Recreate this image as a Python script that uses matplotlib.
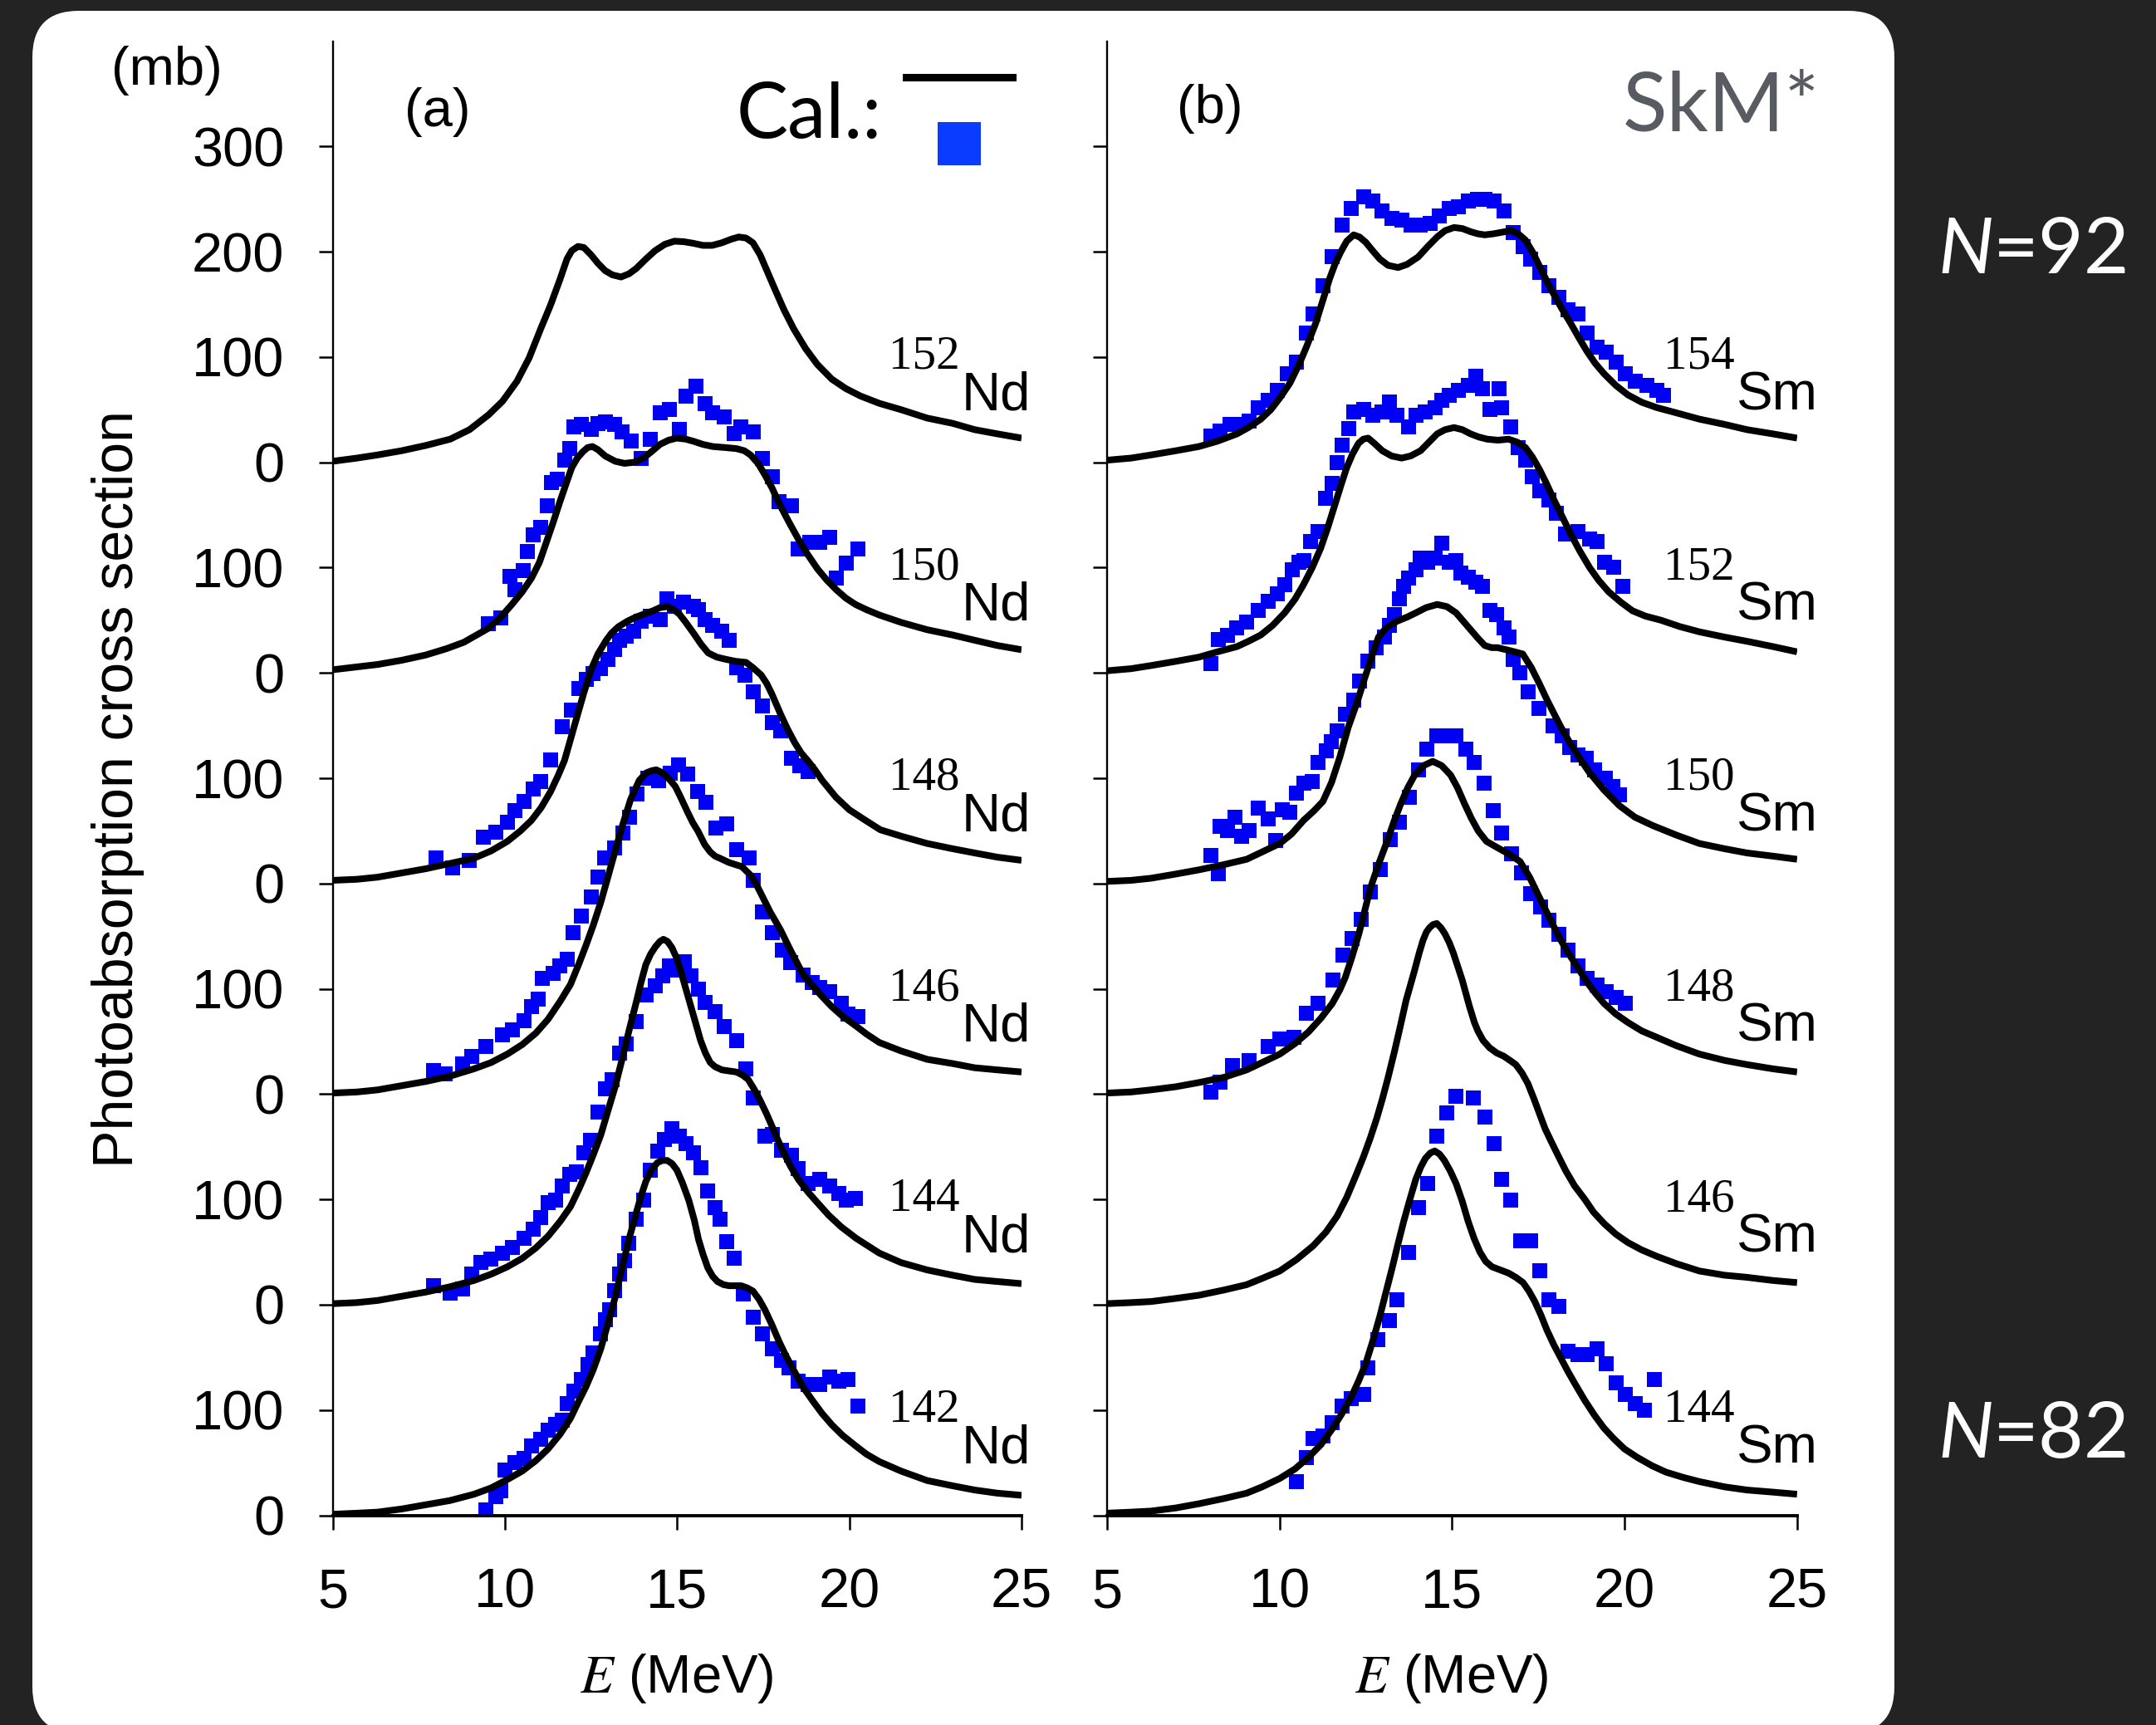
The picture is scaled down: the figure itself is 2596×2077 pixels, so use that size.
import numpy as np
import matplotlib
matplotlib.use('Agg')
import matplotlib.pyplot as plt
from matplotlib.patches import FancyBboxPatch
from matplotlib.lines import Line2D

plt.rcParams['font.family'] = ['Liberation Sans', 'DejaVu Sans']
plt.rcParams['mathtext.fontset'] = 'stix'

# ---- calculated curves (E [MeV], sigma [mb]) ----
nd152_cal = np.array([(5, 1), (5.7, 4), (6.3, 7), (7.0, 11), (7.7, 16), (8.41, 22), (8.97, 31), (9.52, 45),
                      (9.93, 58), (10.35, 77), (10.7, 99), (11.04, 127), (11.32, 149), (11.6, 174), (11.8, 193),
                      (11.94, 201), (12.12, 205), (12.29, 204), (12.5, 197), (12.7, 189), (12.91, 182),
                      (13.12, 178), (13.37, 176), (13.6, 179), (13.81, 184), (14.09, 193), (14.36, 201),
                      (14.64, 207), (14.92, 210), (15.19, 209.5), (15.47, 208), (15.75, 206), (16.02, 206),
                      (16.3, 208.5), (16.58, 212), (16.79, 214), (17.0, 213), (17.2, 208.5), (17.41, 197),
                      (17.62, 181), (17.83, 165), (18.1, 145), (18.38, 127), (18.73, 108), (19.07, 93),
                      (19.49, 79), (19.9, 70), (20.32, 63), (20.87, 56), (21.5, 50), (22.26, 42), (23.0, 37),
                      (23.64, 31), (24.3, 27), (25, 23)])
nd150_cal = np.array([(5, 3), (6.3, 8), (7.0, 12), (7.7, 17), (8.3, 23), (8.8, 29), (9.5, 42), (9.85, 52),
                      (10.2, 65), (10.5, 77), (10.77, 90), (11.0, 105), (11.18, 122), (11.4, 143), (11.6, 163),
                      (11.8, 182), (11.94, 195), (12.1, 204), (12.26, 210), (12.4, 214), (12.54, 215),
                      (12.7, 212), (12.91, 206), (13.2, 201), (13.47, 199), (13.75, 200), (14.02, 204),
                      (14.25, 210), (14.5, 217), (14.75, 221), (14.99, 223), (15.25, 222), (15.47, 220),
                      (15.75, 217), (16.03, 215), (16.4, 214), (16.72, 213), (16.95, 211), (17.13, 207),
                      (17.35, 199), (17.55, 188), (17.75, 176), (17.96, 161), (18.25, 143), (18.52, 127),
                      (18.8, 112), (19.07, 99), (19.35, 88), (19.62, 79), (19.9, 71), (20.18, 65), (20.5, 60),
                      (20.87, 55), (21.5, 48), (22.26, 41), (23.0, 36), (23.64, 31), (24.3, 26), (25, 22)])
nd148_cal = np.array([(5, 3), (5.7, 4), (6.3, 6), (7.0, 10), (7.7, 14), (8.4, 19), (9.1, 24), (9.6, 31),
                      (10.07, 40), (10.45, 50), (10.77, 60), (11.05, 72), (11.32, 87), (11.55, 103),
                      (11.73, 117), (12.0, 148), (12.29, 181), (12.5, 203), (12.7, 218), (12.94, 231),
                      (13.1, 238), (13.3, 244), (13.55, 249), (13.8, 253), (14.05, 256), (14.3, 259),
                      (14.5, 262), (14.71, 263), (14.9, 260), (15.06, 256), (15.25, 248), (15.47, 238),
                      (15.7, 227), (15.9, 219), (16.15, 215), (16.4, 213), (16.7, 211), (17.0, 210),
                      (17.2, 205), (17.44, 198), (17.6, 190), (17.75, 180), (18.0, 161), (18.2, 147),
                      (18.41, 134), (18.6, 124), (18.81, 116), (19.0, 108), (19.21, 98), (19.61, 82),
                      (20.0, 70), (20.42, 61), (20.9, 51), (21.5, 45), (22.26, 38), (23.0, 33), (23.64, 29),
                      (24.3, 25), (25, 22)])
nd146_cal = np.array([(5, 1), (5.7, 2), (6.3, 4), (7.0, 8), (7.7, 12), (8.4, 17), (9.1, 24), (9.6, 30),
                      (10.07, 38), (10.5, 47), (10.9, 58), (11.25, 71), (11.6, 88), (11.9, 104), (12.15, 124),
                      (12.35, 141), (12.56, 160), (12.78, 182), (12.98, 205), (13.2, 231), (13.42, 256),
                      (13.65, 280), (13.9, 298), (14.1, 305), (14.25, 307), (14.39, 308), (14.52, 306),
                      (14.65, 303), (14.8, 298), (14.95, 292), (15.1, 282), (15.3, 268), (15.45, 258),
                      (15.6, 250), (15.8, 237), (15.96, 230), (16.1, 226), (16.24, 224), (16.5, 220),
                      (16.88, 216), (17.13, 208), (17.3, 199), (17.44, 190), (17.7, 173), (18.0, 156),
                      (18.3, 136), (18.65, 114), (18.93, 103), (19.2, 93), (19.49, 83), (19.8, 74),
                      (20.18, 65), (20.5, 57), (20.87, 49), (21.5, 41), (22.26, 33), (23.0, 29), (23.64, 25),
                      (24.3, 23), (25, 21)])
nd144_cal = np.array([(5, 1), (5.7, 2), (6.3, 4), (7.0, 8), (7.7, 12), (8.4, 17), (9.1, 23), (9.6, 29),
                      (10.07, 36), (10.5, 44), (10.9, 54), (11.25, 65), (11.6, 79), (11.9, 93), (12.15, 110),
                      (12.35, 125), (12.56, 142), (12.78, 161), (12.98, 183), (13.2, 207), (13.4, 233),
                      (13.6, 260), (13.81, 287), (13.95, 306), (14.09, 323), (14.23, 333), (14.37, 340),
                      (14.5, 345), (14.6, 347), (14.72, 345), (14.85, 339), (15.0, 328), (15.13, 314),
                      (15.27, 298), (15.41, 282), (15.55, 266), (15.68, 251), (15.82, 239), (15.96, 230),
                      (16.1, 226), (16.3, 223), (16.5, 222), (16.72, 221), (16.9, 218), (17.06, 214),
                      (17.23, 205), (17.41, 194), (17.6, 181), (17.76, 169), (17.93, 156), (18.1, 144),
                      (18.3, 131), (18.52, 119), (18.8, 107), (19.07, 97), (19.4, 85), (19.76, 74),
                      (20.2, 63), (20.87, 49), (21.5, 40), (22.26, 33), (23.0, 28), (23.64, 24), (24.3, 22),
                      (25, 20)])
nd142_cal = np.array([(5, 1), (5.7, 2), (6.3, 3), (7.0, 6), (7.7, 10), (8.4, 14), (9.1, 20), (9.6, 26),
                      (10.07, 34), (10.5, 42), (10.9, 52), (11.25, 63), (11.6, 77), (11.9, 92), (12.15, 109),
                      (12.35, 122), (12.56, 138), (12.78, 158), (12.98, 181), (13.2, 207), (13.4, 235),
                      (13.6, 262), (13.81, 287), (13.95, 303), (14.09, 317), (14.25, 328), (14.43, 335),
                      (14.57, 337), (14.71, 337), (14.85, 334), (14.99, 328), (15.15, 316), (15.34, 299),
                      (15.5, 280), (15.62, 262), (15.75, 248), (15.89, 235), (16.03, 227), (16.17, 222),
                      (16.35, 219), (16.51, 218), (16.7, 218), (16.86, 218), (17.03, 216), (17.2, 213),
                      (17.38, 205), (17.55, 195), (17.75, 181), (17.96, 165), (18.15, 152), (18.38, 138),
                      (18.65, 122), (18.93, 109), (19.2, 97), (19.49, 86), (19.8, 76), (20.18, 66),
                      (20.5, 58), (20.87, 51), (21.5, 42), (22.26, 33), (23.0, 28), (23.64, 24), (24.3, 21),
                      (25, 19)])

sm154_cal = np.array([(5, 2), (5.7, 4), (6.28, 7), (7.0, 11), (7.67, 15), (8.2, 20), (8.77, 27), (9.1, 33),
                      (9.46, 41), (9.75, 50), (10.01, 61), (10.3, 75), (10.57, 93), (10.8, 111), (11.05, 132),
                      (11.25, 153), (11.46, 175), (11.62, 189), (11.78, 200), (11.95, 210), (12.15, 216),
                      (12.32, 214), (12.5, 209), (12.7, 201), (12.91, 193), (13.15, 187), (13.44, 185),
                      (13.7, 188), (14.02, 195), (14.3, 205), (14.57, 214), (14.8, 220), (15.06, 223),
                      (15.3, 222), (15.54, 219), (15.75, 217), (15.95, 216), (16.2, 217), (16.45, 218.5),
                      (16.71, 220), (16.92, 217), (17.13, 211), (17.33, 200), (17.54, 186), (17.75, 172),
                      (17.96, 159), (18.2, 145), (18.44, 132), (18.7, 117), (18.92, 105), (19.15, 94),
                      (19.41, 84), (19.75, 73), (20.1, 64), (20.5, 57), (20.93, 52), (21.5, 47), (22.17, 41),
                      (22.9, 36), (23.55, 31), (24.3, 27), (25, 23)])
sm152_cal = np.array([(5, 2), (5.7, 4), (6.28, 7), (7.0, 11), (7.67, 15), (8.2, 20), (8.77, 25), (9.1, 30),
                      (9.46, 36), (9.8, 45), (10.15, 57), (10.45, 70), (10.7, 84), (10.95, 100), (11.19, 118),
                      (11.4, 138), (11.6, 159), (11.8, 180), (11.95, 195), (12.12, 208), (12.29, 218),
                      (12.43, 222), (12.57, 223), (12.75, 218), (12.98, 211), (13.25, 206), (13.54, 204),
                      (13.8, 206), (14.09, 211), (14.33, 219), (14.57, 227), (14.8, 231), (15.06, 233),
                      (15.3, 231), (15.54, 227), (15.78, 224), (16.02, 222), (16.33, 221), (16.64, 222),
                      (16.9, 219), (17.13, 214), (17.33, 205), (17.54, 193), (17.75, 179), (17.96, 164),
                      (18.2, 148), (18.44, 132), (18.7, 116), (18.99, 100), (19.25, 88), (19.54, 77),
                      (19.9, 67), (20.23, 59), (20.6, 54), (21.06, 50), (21.6, 44), (22.17, 39), (22.9, 34),
                      (23.55, 30), (24.3, 25), (25, 20)])
sm150_cal = np.array([(5, 2), (5.7, 3), (6.28, 5), (7.0, 9), (7.67, 13), (8.4, 18), (9.05, 23), (9.5, 30),
                      (10.01, 38), (10.35, 47), (10.7, 60), (11.0, 69), (11.26, 78), (11.51, 96), (11.75, 120),
                      (11.99, 148), (12.25, 172), (12.47, 195), (12.68, 216), (12.87, 234), (13.1, 243),
                      (13.4, 249), (13.7, 253), (13.95, 257), (14.25, 262), (14.57, 265), (14.85, 263),
                      (15.12, 257), (15.33, 249), (15.54, 241), (15.75, 233), (15.95, 226), (16.15, 224),
                      (16.32, 224), (16.7, 221), (17.05, 218), (17.3, 205), (17.53, 190), (17.73, 176),
                      (17.93, 163), (18.15, 149), (18.41, 134), (18.7, 119), (18.97, 106), (19.4, 89),
                      (19.85, 74), (20.3, 63), (20.82, 55), (21.5, 46), (22.17, 38), (22.9, 33), (23.55, 29),
                      (24.3, 26), (25, 23)])
sm148_cal = np.array([(5, 1), (5.7, 2), (6.28, 4), (7.0, 7), (7.67, 11), (8.4, 16), (9.05, 23), (9.5, 30),
                      (10.01, 38), (10.45, 48), (10.84, 59), (11.2, 72), (11.53, 86), (11.75, 99),
                      (11.91, 111), (12.1, 130), (12.3, 152), (12.47, 174), (12.63, 195), (12.88, 219),
                      (13.12, 240), (13.32, 259), (13.52, 276), (13.72, 291), (13.92, 303), (14.18, 312),
                      (14.44, 316), (14.7, 312), (14.96, 303), (15.16, 291), (15.36, 276), (15.56, 262),
                      (15.76, 250), (16.0, 240), (16.32, 234), (16.65, 228), (16.97, 221), (17.25, 206),
                      (17.53, 187), (17.8, 169), (18.09, 150), (18.33, 136), (18.57, 124), (18.92, 106),
                      (19.15, 96), (19.41, 86), (19.75, 76), (20.1, 68), (20.5, 60), (20.93, 54), (21.5, 46),
                      (22.17, 38), (22.9, 32), (23.55, 28), (24.3, 24), (25, 21)])
sm146_cal = np.array([(5, 1), (5.7, 2), (6.28, 3), (7.0, 6), (7.67, 9), (8.4, 14), (9.05, 19), (9.5, 25),
                      (10.01, 32), (10.5, 43), (10.98, 56), (11.35, 69), (11.67, 84), (11.95, 102),
                      (12.22, 123), (12.43, 140), (12.64, 159), (12.82, 177), (12.98, 195), (13.15, 216),
                      (13.33, 240), (13.5, 264), (13.67, 289), (13.8, 304), (13.92, 318), (14.05, 334),
                      (14.16, 346), (14.26, 354), (14.35, 358), (14.45, 361), (14.56, 362), (14.68, 358),
                      (14.8, 352), (14.92, 344), (15.04, 334), (15.17, 321), (15.3, 308), (15.5, 284),
                      (15.65, 268), (15.75, 260), (15.9, 251), (16.09, 244), (16.3, 239), (16.5, 236),
                      (16.68, 232), (16.85, 228), (17.03, 220), (17.2, 210), (17.37, 196), (17.54, 181),
                      (17.7, 167), (17.89, 154), (18.1, 140), (18.3, 127), (18.55, 113), (18.85, 100),
                      (19.1, 88), (19.41, 77), (19.75, 67), (20.1, 59), (20.5, 52), (20.93, 46), (21.5, 39),
                      (22.17, 32), (22.9, 28), (23.55, 26), (24.3, 23), (25, 21)])
sm144_cal = np.array([(5, 2), (5.7, 3), (6.28, 4), (7.0, 7), (7.67, 11), (8.4, 16), (9.05, 21), (9.5, 27),
                      (10.01, 35), (10.45, 44), (10.84, 55), (11.2, 67), (11.53, 82), (11.8, 96), (12.09, 113),
                      (12.3, 128), (12.5, 144), (12.7, 165), (12.91, 189), (13.08, 211), (13.26, 234),
                      (13.43, 257), (13.6, 279), (13.78, 300), (13.95, 319), (14.1, 331), (14.23, 339),
                      (14.37, 344), (14.5, 346), (14.64, 343), (14.78, 337), (14.95, 327), (15.12, 315),
                      (15.3, 298), (15.47, 279), (15.64, 263), (15.81, 250), (15.98, 241), (16.16, 236),
                      (16.4, 233), (16.64, 230), (16.85, 226), (17.06, 221), (17.23, 213), (17.4, 203),
                      (17.58, 190), (17.75, 176), (17.95, 162), (18.16, 149), (18.37, 136), (18.58, 124),
                      (18.85, 109), (19.13, 95), (19.4, 83), (19.68, 73), (20.0, 63), (20.37, 55), (20.8, 47),
                      (21.2, 41), (21.7, 36), (22.17, 32), (22.9, 27), (23.55, 24), (24.3, 22), (25, 20)])

# ---- experimental points (E [MeV], sigma [mb]) ----
nd150_exp = np.array([(9.52, 47), (9.87, 52), (10.14, 92), (10.28, 79), (10.52, 97), (10.65, 115), (10.83, 131),
                      (11.04, 138), (11.22, 159), (11.35, 181), (11.53, 184), (11.73, 202), (11.87, 213),
                      (12.01, 234), (12.22, 236), (12.5, 231), (12.7, 237), (12.91, 238), (13.19, 236),
                      (13.4, 229), (13.67, 220), (13.95, 204), (14.23, 222), (14.5, 247), (14.78, 250),
                      (15.06, 231), (15.26, 263), (15.54, 272), (15.82, 256), (16.03, 247), (16.37, 243),
                      (16.65, 227), (16.86, 234), (17.2, 229), (17.48, 204), (17.76, 186), (17.96, 163),
                      (18.31, 159), (18.52, 118), (18.86, 124), (19.14, 124), (19.42, 129), (19.62, 90),
                      (19.9, 104), (20.25, 118)])
nd148_exp = np.array([(8.0, 24), (8.48, 15), (8.97, 22), (9.38, 44), (9.73, 49), (10.07, 58), (10.28, 69),
                      (10.56, 78), (10.83, 90), (11.04, 97), (11.32, 117), (11.67, 149), (11.94, 165),
                      (12.15, 185), (12.36, 194), (12.56, 199), (12.77, 204), (12.98, 213), (13.19, 222),
                      (13.33, 231), (13.53, 235), (13.74, 240), (13.95, 249), (14.23, 254), (14.5, 251),
                      (14.71, 270), (14.92, 263), (15.19, 267), (15.47, 263), (15.61, 260), (15.82, 251),
                      (16.03, 245), (16.3, 240), (16.51, 231), (16.72, 205), (16.96, 198), (17.2, 182),
                      (17.48, 169), (17.77, 153), (18.0, 145), (18.33, 119), (18.55, 112), (18.81, 106)])
nd146_exp = np.array([(7.93, 22), (8.27, 19), (8.76, 29), (9.04, 36), (9.45, 45), (9.93, 56), (10.21, 61),
                      (10.56, 70), (10.77, 83), (10.97, 90), (11.09, 110), (11.39, 115), (11.6, 122),
                      (11.8, 128), (11.98, 153), (12.22, 169), (12.5, 187), (12.7, 206), (12.9, 224),
                      (13.18, 234), (13.42, 248), (13.62, 263), (13.83, 285), (14.15, 300), (14.47, 298),
                      (14.79, 305), (15.03, 313), (15.31, 304), (15.6, 287), (15.84, 277), (16.12, 253),
                      (16.44, 257), (16.72, 232), (17.08, 224), (17.2, 203), (17.48, 173), (17.76, 153),
                      (18.05, 137), (18.29, 125), (18.66, 113), (18.93, 106), (19.14, 101), (19.42, 97),
                      (19.76, 86), (19.97, 76), (20.25, 74)])
nd144_exp = np.array([(7.93, 18), (8.41, 11), (8.76, 15), (9.04, 29), (9.31, 40), (9.59, 43), (9.93, 49),
                      (10.21, 54), (10.56, 63), (10.83, 72), (11.04, 83), (11.25, 97), (11.46, 99),
                      (11.66, 113), (11.87, 124), (12.08, 126), (12.29, 144), (12.49, 156), (12.7, 183),
                      (12.91, 205), (13.12, 214), (13.33, 239), (13.53, 248), (13.81, 269), (14.09, 294),
                      (14.37, 303), (14.57, 312), (14.78, 322), (14.99, 318), (15.2, 326), (15.41, 312),
                      (15.62, 300), (15.82, 287), (16.1, 278), (16.37, 264), (16.72, 251), (17.0, 224),
                      (17.2, 196), (17.55, 160), (17.76, 162), (18.03, 147), (18.31, 142), (18.52, 129),
                      (18.79, 115), (19.14, 119), (19.42, 113), (19.69, 106), (19.9, 99), (20.18, 101)])
nd142_exp = np.array([(9.45, 5), (9.73, 18), (9.87, 23), (10.0, 43), (10.28, 50), (10.56, 54), (10.77, 66),
                      (11.04, 72), (11.25, 81), (11.46, 86), (11.66, 90), (11.8, 106), (12.01, 118),
                      (12.22, 129), (12.42, 143), (12.56, 154), (12.77, 172), (12.91, 186), (13.05, 195),
                      (13.19, 213), (13.33, 229), (13.47, 242), (13.6, 258), (13.81, 281), (14.02, 299),
                      (14.23, 328), (14.43, 346), (14.64, 357), (14.85, 367), (15.06, 360), (15.26, 353),
                      (15.47, 344), (15.68, 330), (15.89, 308), (16.1, 292), (16.24, 281), (16.44, 260),
                      (16.65, 244), (16.92, 210), (17.2, 188), (17.48, 172), (17.76, 158), (18.03, 147),
                      (18.24, 140), (18.52, 127), (18.79, 124), (19.14, 124), (19.42, 131), (19.69, 127),
                      (19.97, 129), (20.25, 104)])

sm154_exp = np.array([(8.01, 25), (8.29, 30), (8.56, 36), (8.84, 36), (9.12, 39), (9.39, 52), (9.67, 59),
                      (9.94, 68), (10.22, 84), (10.5, 95), (10.77, 123), (10.98, 141), (11.26, 168),
                      (11.53, 195), (11.81, 225), (12.09, 241), (12.43, 252), (12.71, 248), (12.98, 239),
                      (13.26, 232), (13.54, 230), (13.81, 225), (14.09, 225), (14.36, 227), (14.64, 234),
                      (14.92, 241), (15.19, 243), (15.47, 248), (15.75, 250), (15.95, 250), (16.23, 248),
                      (16.5, 239), (16.78, 218), (17.06, 205), (17.27, 193), (17.54, 180), (17.82, 168),
                      (18.09, 157), (18.37, 145), (18.65, 141), (18.92, 123), (19.2, 109), (19.48, 105),
                      (19.75, 95), (20.03, 84), (20.3, 77), (20.65, 73), (20.93, 68), (21.13, 64)])
sm152_exp = np.array([(8.01, 9), (8.22, 32), (8.49, 36), (8.77, 43), (9.05, 48), (9.39, 59), (9.67, 68),
                      (9.94, 75), (10.15, 84), (10.36, 98), (10.57, 105), (10.7, 107), (10.91, 125),
                      (11.12, 134), (11.33, 166), (11.53, 180), (11.67, 200), (11.81, 216), (12.02, 232),
                      (12.15, 248), (12.43, 250), (12.71, 245), (12.98, 248), (13.19, 257), (13.4, 245),
                      (13.74, 234), (13.95, 245), (14.23, 248), (14.5, 252), (14.71, 259), (14.92, 264),
                      (15.19, 268), (15.47, 273), (15.68, 282), (15.88, 270), (16.09, 250), (16.37, 270),
                      (16.44, 252), (16.71, 234), (16.92, 214), (17.13, 202), (17.33, 186), (17.54, 173),
                      (17.82, 164), (18.02, 152), (18.3, 132), (18.65, 134), (18.99, 127), (19.2, 125),
                      (19.41, 105), (19.68, 100), (19.96, 82)])
sm150_exp = np.array([(8.01, 27), (8.22, 9), (8.29, 54), (8.49, 50), (8.7, 63), (8.91, 45), (9.12, 50),
                      (9.39, 72), (9.67, 61), (9.88, 41), (10.08, 70), (10.29, 68), (10.5, 86), (10.7, 95),
                      (10.95, 97), (11.12, 115), (11.35, 126), (11.5, 135), (11.67, 145), (11.91, 161),
                      (12.15, 174), (12.31, 192), (12.55, 211), (12.8, 224), (13.04, 234), (13.19, 245),
                      (13.33, 255), (13.47, 270), (13.6, 282), (13.74, 290), (13.95, 298), (14.09, 309),
                      (14.3, 305), (14.5, 309), (14.71, 323), (14.92, 305), (15.12, 307), (15.26, 295),
                      (15.47, 291), (15.68, 286), (15.88, 282), (16.09, 259), (16.3, 255), (16.5, 243),
                      (16.65, 234), (16.78, 213), (16.97, 200), (17.21, 182), (17.53, 166), (17.93, 150),
                      (18.2, 140), (18.41, 129), (18.65, 122), (18.89, 119), (19.13, 108), (19.45, 100),
                      (19.65, 92), (19.85, 84)])
sm148_exp = np.array([(8.01, 2), (8.29, 11), (8.63, 27), (9.12, 32), (9.67, 45), (10.01, 52), (10.43, 54),
                      (10.77, 77), (11.12, 86), (11.55, 108), (11.83, 132), (12.1, 148), (12.38, 166),
                      (12.63, 192), (12.92, 213), (13.2, 242), (13.48, 258), (13.76, 282), (14.04, 308),
                      (14.28, 328), (14.56, 340), (14.84, 340), (15.12, 340), (15.4, 328), (15.64, 315),
                      (15.92, 295), (16.2, 269), (16.44, 248), (16.73, 228), (17.01, 210), (17.29, 190),
                      (17.57, 178), (17.81, 165), (18.09, 152), (18.37, 137), (18.65, 122), (18.92, 110),
                      (19.2, 104), (19.48, 97), (19.75, 92), (20.03, 86)])
sm144_exp = np.array([(10.5, 32), (10.77, 55), (10.98, 73), (11.26, 75), (11.53, 88), (11.81, 104),
                      (12.09, 111), (12.43, 115), (12.57, 140), (12.84, 167), (13.19, 185), (13.4, 205),
                      (13.74, 250), (14.02, 292), (14.3, 315), (14.57, 360), (14.85, 382), (15.12, 398),
                      (15.61, 396), (15.95, 378), (16.23, 353), (16.44, 319), (16.71, 299), (16.99, 261),
                      (17.27, 261), (17.54, 232), (17.82, 205), (18.09, 198), (18.37, 156), (18.65, 153),
                      (18.92, 153), (19.2, 158), (19.48, 144), (19.75, 126), (20.03, 115), (20.3, 106),
                      (20.58, 100), (20.86, 129)])

nd_mass = ['152', '150', '148', '146', '144', '142']
sm_mass = ['154', '152', '150', '148', '146', '144']
shifts = [1000, 800, 600, 400, 200, 0]
nd_cal = [nd152_cal, nd150_cal, nd148_cal, nd146_cal, nd144_cal, nd142_cal]
nd_exp = [None, nd150_exp, nd148_exp, nd146_exp, nd144_exp, nd142_exp]
sm_cal = [sm154_cal, sm152_cal, sm150_cal, sm148_cal, sm146_cal, sm144_cal]
sm_exp = [sm154_exp, sm152_exp, sm150_exp, sm148_exp, None, sm144_exp]
ytick_vals = list(range(0, 1400, 100))
ytick_text = ['0', '100'] * 6 + ['200', '300']
xtick_vals = [5, 10, 15, 20, 25]

W, H = 2596, 2077
blue = '#0000f5'
fig = plt.figure(figsize=(W / 100, H / 100), dpi=100, facecolor='#232323')

# white rounded panel behind the plots
bg = fig.add_axes([0, 0, 1, 1])
bg.set_xlim(0, W)
bg.set_ylim(H, 0)
bg.axis('off')
bg.set_zorder(-1)
bg.add_patch(FancyBboxPatch((39, 13), 2242, 2074, boxstyle='round,pad=0,rounding_size=56',
                            fc='white', ec='none'))

ax1 = fig.add_axes([400.7 / W, 252.5 / H, 829.3 / W, 1775 / H])
ax2 = fig.add_axes([1332.8 / W, 252.5 / H, 831 / W, 1775 / H])

for ax, cals, exps, masses, elem in [(ax1, nd_cal, nd_exp, nd_mass, 'Nd'),
                                     (ax2, sm_cal, sm_exp, sm_mass, 'Sm')]:
    ax.set_facecolor('none')
    for cal, exp, m, s in zip(cals, exps, masses, shifts):
        if exp is not None:
            ax.plot(exp[:, 0], exp[:, 1] + s, ls='none', marker='s', ms=13, mew=0,
                    color=blue, zorder=2)
        ax.plot(cal[:, 0], cal[:, 1] + s, color='black', lw=5.8, zorder=3,
                solid_joinstyle='round', solid_capstyle='butt')
        ax.text(21.13, s + 89, m, family='Liberation Serif', fontsize=41, va='baseline', ha='left')
        ax.text(23.25, s + 50, elem, fontsize=47, va='baseline', ha='left')
    ax.set_xlim(5, 25)
    ax.set_ylim(0, 1400)
    ax.set_xticks(xtick_vals)
    ax.set_yticks(ytick_vals)
    ax.spines['top'].set_visible(False)
    ax.spines['right'].set_visible(False)
    ax.spines['left'].set_linewidth(1.7)
    ax.spines['bottom'].set_linewidth(2.8)
    ax.tick_params(direction='out', length=12, width=1.8, labelsize=48)
    ax.tick_params(axis='x', pad=33)
    ax.tick_params(axis='y', pad=30)

ax1.set_yticklabels(ytick_text)
ax2.set_yticklabels([])

# legend for the calculation (line) and experiment-like square symbols
handles = [Line2D([], [], color='black', lw=6.5),
           Line2D([], [], ls='none', marker='s', ms=38, mew=0, color='#0a3cff')]
ax1.legend(handles, ['', ''], loc='upper left', bbox_to_anchor=(1091 / W, 1 - 72 / H),
           bbox_transform=fig.transFigure, frameon=False, borderpad=0, borderaxespad=0,
           handlelength=2.3, handletextpad=0, fontsize=40, labelspacing=0.51)

fig.text(886.6 / W, 1 - 166 / H, 'Cal.:', family='Lato', fontsize=67, va='baseline', ha='left')
fig.text(1954 / W, 1 - 158 / H, 'SkM*', family='Lato', fontsize=71, color='#585c62',
         va='baseline', ha='left')
fig.text(527 / W, 1 - 135 / H, '(a)', fontsize=47, ha='center', va='center')
fig.text(1457 / W, 1 - 131 / H, '(b)', fontsize=47, ha='center', va='center')
fig.text(201 / W, 1 - 85 / H, '(mb)', fontsize=47, ha='center', va='center')
fig.text(142 / W, 1 - 950 / H, 'Photoabsorption cross section', fontsize=49, rotation=90,
         ha='center', va='center')
fig.text(815 / W, 1 - 2021 / H, r'$E$ (MeV)', fontsize=47, ha='center', va='center')
fig.text(1748 / W, 1 - 2021 / H, r'$E$ (MeV)', fontsize=47, ha='center', va='center')

# neutron-number tags on the dark margin
for yb, lab in [(329, '=92'), (1755, '=82')]:
    fig.text(2400 / W, 1 - yb / H, 'N', family='Lato', style='italic', fontsize=68,
             color='white', ha='right', va='baseline')
    fig.text(2400 / W, 1 - yb / H, lab, family='Lato', fontsize=68, color='white',
             ha='left', va='baseline')

fig.savefig('out.png', dpi=100, facecolor=fig.get_facecolor())
